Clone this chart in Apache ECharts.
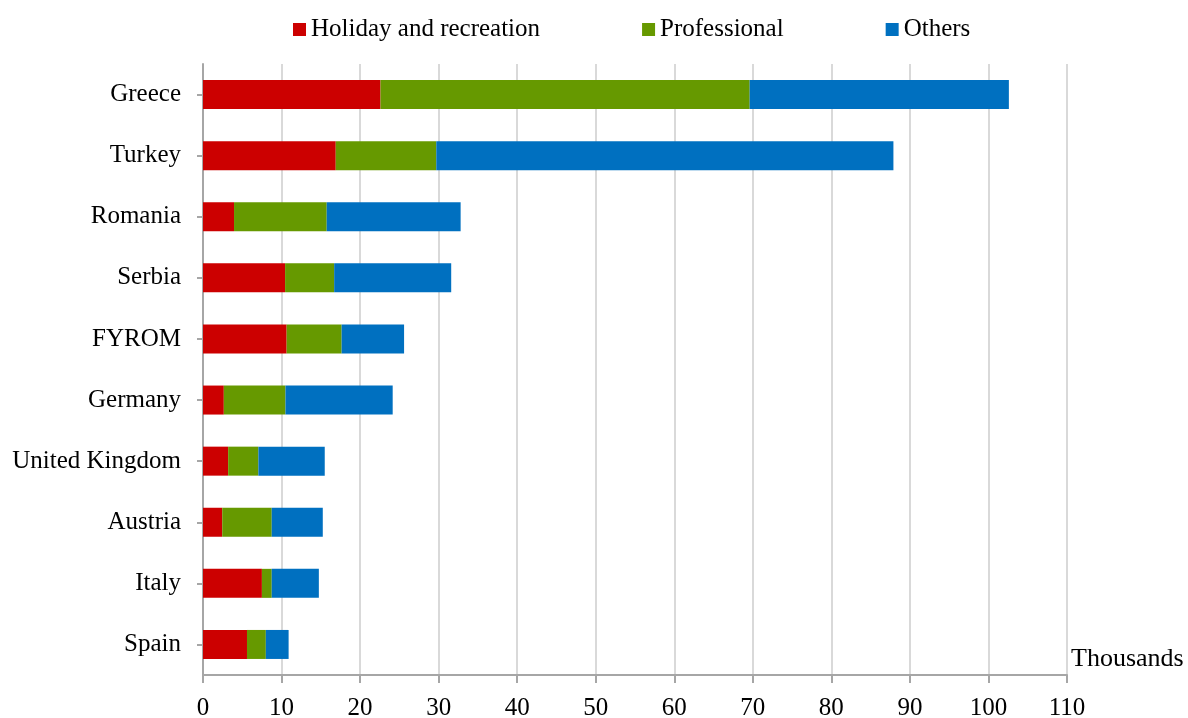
<!DOCTYPE html>
<html>
<head>
<meta charset="utf-8">
<script src="https://cdn.jsdelivr.net/npm/echarts@6/dist/echarts.min.js"></script>
<style>html,body{margin:0;padding:0;background:#fff}#c{width:1188px;height:718px}</style>
</head>
<body>
<div id="c"></div>
<script>
const categories = ["Greece","Turkey","Romania","Serbia","FYROM","Germany","United Kingdom","Austria","Italy","Spain"];
const holiday = [22.6, 16.9, 3.95, 10.45, 10.65, 2.65, 3.2, 2.45, 7.5, 5.6];
const professional = [47.0, 12.8, 11.8, 6.25, 7.0, 7.85, 3.85, 6.3, 1.25, 2.4];
const others = [33.0, 58.2, 17.05, 14.9, 7.95, 13.65, 8.45, 6.5, 6.0, 2.9];
const seriesNames = ["Holiday and recreation","Professional","Others"];
const xTicks = {min: 0, max: 110, interval: 10};
const unitLabel = "Thousands";

const FONT = "'Liberation Serif','Times New Roman',serif";
const colors = ['#CC0000','#669900','#0070C0'];
const chart = echarts.init(document.getElementById('c'), null, {renderer:'canvas'});
const mk = (name, data, i) => ({
  name, type:'bar', stack:'total', data, barWidth: 29,
  itemStyle:{color:colors[i]}
});
chart.setOption({
  animation:false,
  color: colors,
  textStyle:{fontFamily:FONT},
  legend:{
    left: 288, top: 12, itemWidth:13, itemHeight:13, itemGap: 102,
    icon:'rect',
    textStyle:{fontFamily:FONT, fontSize:25, color:'#000'},
    data: seriesNames
  },
  grid:{left:203, right:121, top:64, bottom:43, containLabel:false, outerBoundsMode:'none'},
  xAxis:{
    type:'value', min:xTicks.min, max:xTicks.max, interval:xTicks.interval,
    axisLine:{show:true, lineStyle:{color:'#a6a6a6', width:2}},
    axisTick:{show:true, length:8, lineStyle:{color:'#a6a6a6', width:2}},
    axisLabel:{fontFamily:FONT, fontSize:25, color:'#000', margin:21},
    splitLine:{show:true, lineStyle:{color:'#d9d9d9', width:2}}
  },
  yAxis:{
    type:'category', data:categories, inverse:true,
    axisLine:{show:true, lineStyle:{color:'#a6a6a6', width:2}},
    axisTick:{show:true, alignWithLabel:true, length:6, lineStyle:{color:'#a6a6a6', width:2}},
    axisLabel:{fontFamily:FONT, fontSize:25, color:'#000', margin:22}
  },
  graphic:[{type:'text', left:1071, top:646, style:{text:unitLabel, font:"26px "+FONT, fill:'#000'}}],
  series:[mk(seriesNames[0], holiday, 0), mk(seriesNames[1], professional, 1), mk(seriesNames[2], others, 2)]
});
</script>
</body>
</html>
